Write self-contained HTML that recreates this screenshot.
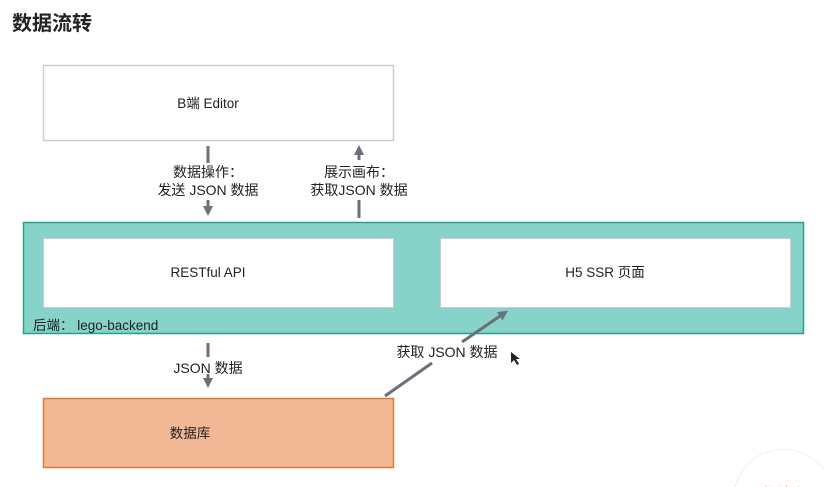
<!DOCTYPE html>
<html><head><meta charset="utf-8"><style>
html,body{margin:0;padding:0;background:#fff;width:824px;height:487px;overflow:hidden}
svg{display:block}
text{font-family:"Liberation Sans","Noto Sans CJK SC",sans-serif;fill:#222}
</style></head><body>
<svg width="824" height="487" viewBox="0 0 824 487">
<defs><marker id="ah" markerWidth="10" markerHeight="10" refX="4" refY="5" orient="auto" markerUnits="userSpaceOnUse"><path d="M0,0 L10,5 L0,10 z" fill="#6b6f7a"/></marker></defs>
<text x="12" y="30" font-size="20" font-weight="bold" fill="#222">数据流转</text>
<rect x="43.5" y="65.5" width="350" height="75" fill="#fff" stroke="#c9ccd3" stroke-width="1.5"/>
<text x="208" y="108" font-size="13.5" text-anchor="middle">B端 Editor</text>
<rect x="23.5" y="222.5" width="780" height="111" fill="#87d2c9" stroke="#2aa08c" stroke-width="1.5"/>
<rect x="43.5" y="238.5" width="350" height="69" fill="#fff" stroke="#c9ccd3" stroke-width="1"/>
<text x="208" y="277" font-size="13.5" text-anchor="middle">RESTful API</text>
<rect x="440.5" y="238.5" width="350" height="69" fill="#fff" stroke="#c9ccd3" stroke-width="1"/>
<text x="605" y="277" font-size="13.5" text-anchor="middle">H5 SSR 页面</text>
<text x="33" y="330" font-size="13.5">后端： lego-backend</text>
<rect x="43.5" y="398.5" width="350" height="69" fill="#f2b896" stroke="#e07a35" stroke-width="1.5"/>
<text x="190" y="438" font-size="13.5" text-anchor="middle">数据库</text>
<g stroke="#6b6f7a" stroke-width="3" fill="none">
<line x1="208" y1="146" x2="208" y2="163"/>
<line x1="208" y1="200" x2="208" y2="210" marker-end="url(#ah)"/>
<line x1="359" y1="218" x2="359" y2="200"/>
<line x1="359" y1="160" x2="359" y2="151" marker-end="url(#ah)"/>
<line x1="208" y1="343" x2="208" y2="357"/>
<line x1="208" y1="374" x2="208" y2="382" marker-end="url(#ah)"/>
<line x1="385" y1="396" x2="432" y2="363"/>
<line x1="462" y1="342" x2="503" y2="314" marker-end="url(#ah)"/>
</g>
<text x="208" y="177" font-size="14" text-anchor="middle">数据操作：</text>
<text x="208" y="195" font-size="14" text-anchor="middle">发送 JSON 数据</text>
<text x="359" y="177" font-size="14" text-anchor="middle">展示画布：</text>
<text x="359" y="195" font-size="14" text-anchor="middle">获取JSON 数据</text>
<text x="208" y="373" font-size="14" text-anchor="middle">JSON 数据</text>
<text x="447" y="357" font-size="14" text-anchor="middle">获取 JSON 数据</text>
<path d="M511,352 L511,363 L514,360 L517,365 L519,364 L516,359 L520,359 z" fill="#222"/>
<path d="M735,487 A50,50 0 0 1 824,470" fill="none" stroke="#eee" stroke-width="1"/>
<text x="745" y="500" font-size="16" style="fill:#e53a2a">工作流程</text>
</svg>
</body></html>
